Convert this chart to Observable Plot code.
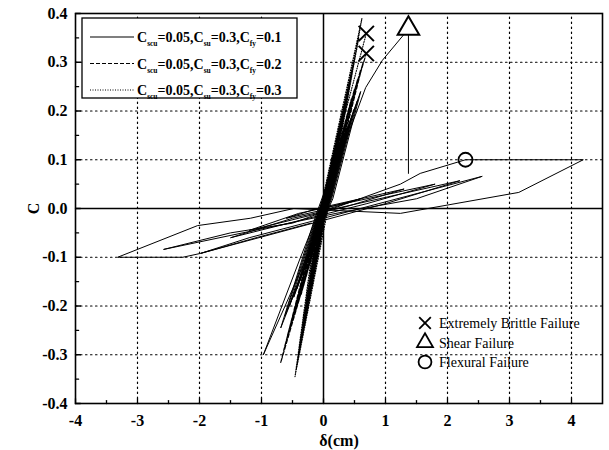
<!DOCTYPE html>
<html>
<head>
<meta charset="utf-8">
<script src="https://cdn.jsdelivr.net/npm/d3@7"></script>
<script src="https://cdn.jsdelivr.net/npm/@observablehq/plot@0.6"></script>
<style>
  html, body { margin: 0; padding: 0; background: white; }
</style>
</head>
<body>
<div id="chart"></div>
<script>
// ---- tick values / labels ----
const xTicks = [-4, -3, -2, -1, 0, 1, 2, 3, 4];
const xTickLabels = ["-4", "-3", "-2", "-1", "0", "1", "2", "3", "4"];
const xMinor = [-3.5, -2.5, -1.5, -0.5, 0.5, 1.5, 2.5, 3.5];
const yTicks = [-0.4, -0.3, -0.2, -0.1, 0, 0.1, 0.2, 0.3, 0.4];
const yTickLabels = ["-0.4", "-0.3", "-0.2", "-0.1", "0.0", "0.1", "0.2", "0.3", "0.4"];
const yMinor = [-0.35, -0.25, -0.15, -0.05, 0.05, 0.15, 0.25, 0.35];
const xGrid = [-3, -2, -1, 1, 2, 3, 4];
const yGrid = [-0.3, -0.2, -0.1, 0.1, 0.2, 0.3];

// ---- series: Cfy = 0.1 (solid), steep cycles up to shear failure ----
const solidX = [0, 0.06, 0.01, -0.06, -0.01, 0.1, 0.02, -0.1, -0.02, 0.14, 0.03, -0.14, -0.03, 0.18, 0.04, -0.18, -0.04, 0.22, 0.05, -0.23, -0.05, 0.26, 0.06, -0.28, -0.06, 0.3, 0.07, -0.33, -0.07, 0.34, 0.08, -0.38, -0.08, 0.38, 0.09, -0.43, -0.09, 0.42, 0.1, -0.48, -0.1, 0.46, 0.11, -0.55, -0.11, 0.5, 0.12, -0.62, -0.12, 0.55, 0.13, -0.69, -0.14, 0.6, 0.15, -0.97, -0.37, 0.1, 0.68, 0.95, 1.35];
const solidY = [0, 0.025, 0, -0.025, 0, 0.042, 0.003, -0.042, -0.003, 0.058, 0.006, -0.058, -0.006, 0.075, 0.008, -0.075, -0.008, 0.092, 0.01, -0.094, -0.01, 0.108, 0.012, -0.112, -0.012, 0.125, 0.014, -0.13, -0.014, 0.14, 0.015, -0.148, -0.015, 0.156, 0.016, -0.165, -0.016, 0.172, 0.018, -0.182, -0.018, 0.188, 0.02, -0.2, -0.02, 0.205, 0.02, -0.22, -0.02, 0.222, 0.02, -0.245, -0.02, 0.24, 0.02, -0.30, -0.10, 0.05, 0.248, 0.304, 0.365];

// ---- series: Cfy = 0.1 (solid), wide flexural cycles ----
const wideX = [0, 0.6, 0.1, -0.6, -0.1, 1.3, 0.4, -1.2, -0.4, 1.8, 0.7, -1.5, -0.5, 2.2, 1.0, -1.98, -1.2, -0.3, 2.56, 1.5, 0.2, -2.58, -1.5, -0.5, 1.24, 1.56, 2.29, 4.19, 3.15, 1.24, -0.48, -1.18, -2.03, -3.32, -2.27, -1.98, -1.06, -0.2];
const wideY = [0, 0.02, 0, -0.02, 0, 0.04, 0.005, -0.045, -0.01, 0.05, 0.01, -0.06, -0.02, 0.057, 0.01, -0.092, -0.06, -0.03, 0.066, 0.02, -0.01, -0.084, -0.05, -0.03, 0.05, 0.072, 0.1, 0.1, 0.033, -0.01, 0, -0.02, -0.035, -0.1, -0.1, -0.092, -0.059, -0.03];

// ---- series: Cfy = 0.2 (dashed) ----
const dashX = [0, 0.05, 0.01, -0.05, -0.01, 0.09, 0.015, -0.09, -0.015, 0.13, 0.02, -0.12, -0.02, 0.17, 0.03, -0.16, -0.03, 0.21, 0.035, -0.2, -0.035, 0.25, 0.04, -0.24, -0.04, 0.29, 0.05, -0.28, -0.05, 0.33, 0.055, -0.32, -0.055, 0.37, 0.06, -0.36, -0.06, 0.41, 0.07, -0.41, -0.07, 0.45, 0.075, -0.46, -0.075, 0.5, 0.08, -0.52, -0.08, 0.55, 0.09, -0.58, -0.09, 0.6, 0.1, -0.64, -0.1, 0.64, 0.11, -0.69, -0.12, 0.69];
const dashY = [0, 0.025, 0, -0.022, 0, 0.045, 0.003, -0.042, -0.003, 0.065, 0.005, -0.06, -0.005, 0.085, 0.008, -0.08, -0.008, 0.105, 0.01, -0.1, -0.01, 0.125, 0.012, -0.12, -0.012, 0.145, 0.015, -0.14, -0.015, 0.165, 0.017, -0.158, -0.017, 0.185, 0.02, -0.176, -0.02, 0.205, 0.022, -0.195, -0.022, 0.225, 0.024, -0.215, -0.024, 0.245, 0.026, -0.237, -0.026, 0.265, 0.028, -0.26, -0.028, 0.285, 0.03, -0.29, -0.03, 0.3, 0.03, -0.316, -0.03, 0.318];

// ---- series: Cfy = 0.3 (dotted) ----
const dotX = [0, 0.04, 0.005, -0.035, -0.005, 0.07, 0.01, -0.06, -0.01, 0.1, 0.015, -0.085, -0.015, 0.13, 0.02, -0.11, -0.02, 0.17, 0.025, -0.14, -0.025, 0.21, 0.03, -0.17, -0.03, 0.25, 0.035, -0.2, -0.035, 0.29, 0.04, -0.23, -0.04, 0.33, 0.045, -0.26, -0.045, 0.37, 0.05, -0.29, -0.05, 0.41, 0.06, -0.32, -0.06, 0.45, 0.07, -0.35, -0.07, 0.49, 0.08, -0.38, -0.08, 0.53, 0.09, -0.41, -0.09, 0.57, 0.1, -0.44, -0.1, 0.62, 0.12, -0.46, -0.12, 0.69];
const dotY = [0, 0.026, 0, -0.025, 0, 0.046, 0.003, -0.045, -0.003, 0.066, 0.005, -0.065, -0.005, 0.086, 0.007, -0.085, -0.007, 0.108, 0.009, -0.106, -0.009, 0.13, 0.011, -0.128, -0.011, 0.153, 0.013, -0.15, -0.013, 0.176, 0.015, -0.172, -0.015, 0.2, 0.017, -0.195, -0.017, 0.225, 0.019, -0.218, -0.019, 0.25, 0.021, -0.24, -0.021, 0.275, 0.023, -0.262, -0.023, 0.3, 0.025, -0.285, -0.025, 0.325, 0.027, -0.308, -0.027, 0.35, 0.03, -0.33, -0.03, 0.39, 0.03, -0.345, -0.03, 0.359];

// ---- failure points ----
const brittleX = [0.69, 0.69];
const brittleY = [0.359, 0.318];
const shearX = [1.37];
const shearY = [0.369];
const shearDropX = [1.37, 1.37];
const shearDropY = [0.369, 0.072];
const flexX = [2.29];
const flexY = [0.1];

// ---- legend texts ----
const legendCfy = ["0.1", "0.2", "0.3"];
const failureLegend = ["Extremely Brittle Failure", "Shear Failure", "Flexural Failure"];

const toPts = (xs, ys) => xs.map((x, i) => ({x, y: ys[i]}));
const fmtMap = (vals, labels) => d => labels[vals.findIndex(v => Math.abs(v - d) < 1e-9)];
const serif = "'Liberation Serif', 'Times New Roman', serif";

// grid and tick segments built from the tick arrays (as line marks)
const vSeg = (vals, ya, yb) => vals.flatMap(v => [{x: v, y: ya, k: v}, {x: v, y: yb, k: v}]);
const hSeg = (vals, xa, xb) => vals.flatMap(v => [{x: xa, y: v, k: v}, {x: xb, y: v, k: v}]);

const plot = Plot.plot({
  width: 609,
  height: 450,
  marginLeft: 75,
  marginRight: 7,
  marginTop: 13,
  marginBottom: 47,
  x: {domain: [-4, 4.5]},
  y: {domain: [-0.4, 0.4]},
  style: {fontFamily: serif, fontSize: "15px", fontWeight: "bold", background: "white", color: "black"},
  marks: [
    Plot.line(vSeg(xGrid, -0.4, 0.4), {x: "x", y: "y", z: "k", stroke: "black", strokeWidth: 1.2, strokeDasharray: "1.5,3.5"}),
    Plot.line(hSeg(yGrid, -4, 4.5), {x: "x", y: "y", z: "k", stroke: "black", strokeWidth: 1.2, strokeDasharray: "1.5,3.5"}),
    Plot.ruleX([0], {stroke: "black", strokeWidth: 1.5}),
    Plot.ruleY([0], {stroke: "black", strokeWidth: 1.5}),
    // inward ticks
    Plot.line(vSeg(xTicks, -0.4, -0.39), {x: "x", y: "y", z: "k", stroke: "black", strokeWidth: 1.3}),
    Plot.line(vSeg(xMinor, -0.4, -0.394), {x: "x", y: "y", z: "k", stroke: "black", strokeWidth: 1.3}),
    Plot.line(hSeg(yTicks, -4, -3.92), {x: "x", y: "y", z: "k", stroke: "black", strokeWidth: 1.3}),
    Plot.line(hSeg(yMinor, -4, -3.95), {x: "x", y: "y", z: "k", stroke: "black", strokeWidth: 1.3}),
    // series
    Plot.line(toPts(wideX, wideY), {x: "x", y: "y", stroke: "black", strokeWidth: 1}),
    Plot.line(toPts(solidX, solidY), {x: "x", y: "y", stroke: "black", strokeWidth: 1}),
    Plot.line(toPts(dashX, dashY), {x: "x", y: "y", stroke: "black", strokeWidth: 1.2, strokeDasharray: "4,2"}),
    Plot.line(toPts(dotX, dotY), {x: "x", y: "y", stroke: "black", strokeWidth: 1.1, strokeDasharray: "1,1.5"}),
    Plot.line(toPts(shearDropX, shearDropY), {x: "x", y: "y", stroke: "black", strokeWidth: 1}),
    // failure markers
    Plot.dot(toPts(brittleX, brittleY), {x: "x", y: "y", symbol: "times", r: 7, stroke: "black", strokeWidth: 2}),
    Plot.dot(toPts(shearX, shearY), {x: "x", y: "y", symbol: "triangle", r: 8, fill: "white", stroke: "black", strokeWidth: 2}),
    Plot.dot(toPts(flexX, flexY), {x: "x", y: "y", symbol: "circle", r: 7, fill: "none", stroke: "black", strokeWidth: 1.8}),
    Plot.frame({stroke: "black", strokeWidth: 1.6}),
    Plot.axisX({ticks: xTicks, tickSize: 0, tickPadding: 11, tickFormat: fmtMap(xTicks, xTickLabels), label: "δ(cm)", labelAnchor: "center", labelArrow: "none", labelOffset: 42, fontSize: 16}),
    Plot.axisY({ticks: yTicks, tickSize: 0, tickPadding: 8, tickFormat: fmtMap(yTicks, yTickLabels), label: "C", labelAnchor: "center", labelArrow: "none", labelOffset: 48, fontSize: 16})
  ]
});

document.getElementById("chart").appendChild(plot);

// ---- legends drawn inside the SVG ----
const svg = d3.select(plot);
const g = svg.append("g").attr("text-anchor", "start");
g.append("rect").attr("x", 82).attr("y", 18).attr("width", 215).attr("height", 80)
  .attr("fill", "white").attr("stroke", "black").attr("stroke-width", 1.3);
const dashes = [null, "4,2", "1,1.5"];
legendCfy.forEach((v, i) => {
  const yy = 37 + i * 26.5;
  g.append("line").attr("x1", 90).attr("x2", 134).attr("y1", yy).attr("y2", yy)
    .attr("stroke", "black").attr("stroke-width", 1.2)
    .attr("stroke-dasharray", dashes[i]);
  const t = g.append("text").attr("x", 137).attr("y", yy + 5)
    .attr("font-family", serif).attr("text-anchor", "start")
    .attr("font-weight", "bold").attr("font-size", 14).attr("fill", "black");
  const parts = [["C", 0], ["scu", 1], ["=0.05,C", 0], ["su", 1], ["=0.3,C", 0], ["fy", 1], ["=" + v, 0]];
  let prevSub = false;
  parts.forEach(([txt, sub]) => {
    const sp = t.append("tspan").text(txt);
    if (sub) { sp.attr("font-size", 7.5).attr("dy", 4); prevSub = true; }
    else { if (prevSub) sp.attr("dy", -4); prevSub = false; }
  });
});
const legY = [323, 342.5, 362];
const syms = [d3.symbolTimes, d3.symbolTriangle, d3.symbolCircle];
const symSize = [90, 110, 130];
legY.forEach((yy, i) => {
  g.append("path").attr("transform", `translate(425,${yy})`)
    .attr("d", d3.symbol(syms[i], symSize[i])())
    .attr("fill", "none").attr("stroke", "black").attr("stroke-width", 1.8);
  g.append("text").attr("x", 439).attr("y", yy + 5)
    .attr("font-family", serif).attr("text-anchor", "start")
    .attr("font-weight", "normal").attr("font-size", 14).attr("fill", "black")
    .text(failureLegend[i]);
});
</script>
</body>
</html>
